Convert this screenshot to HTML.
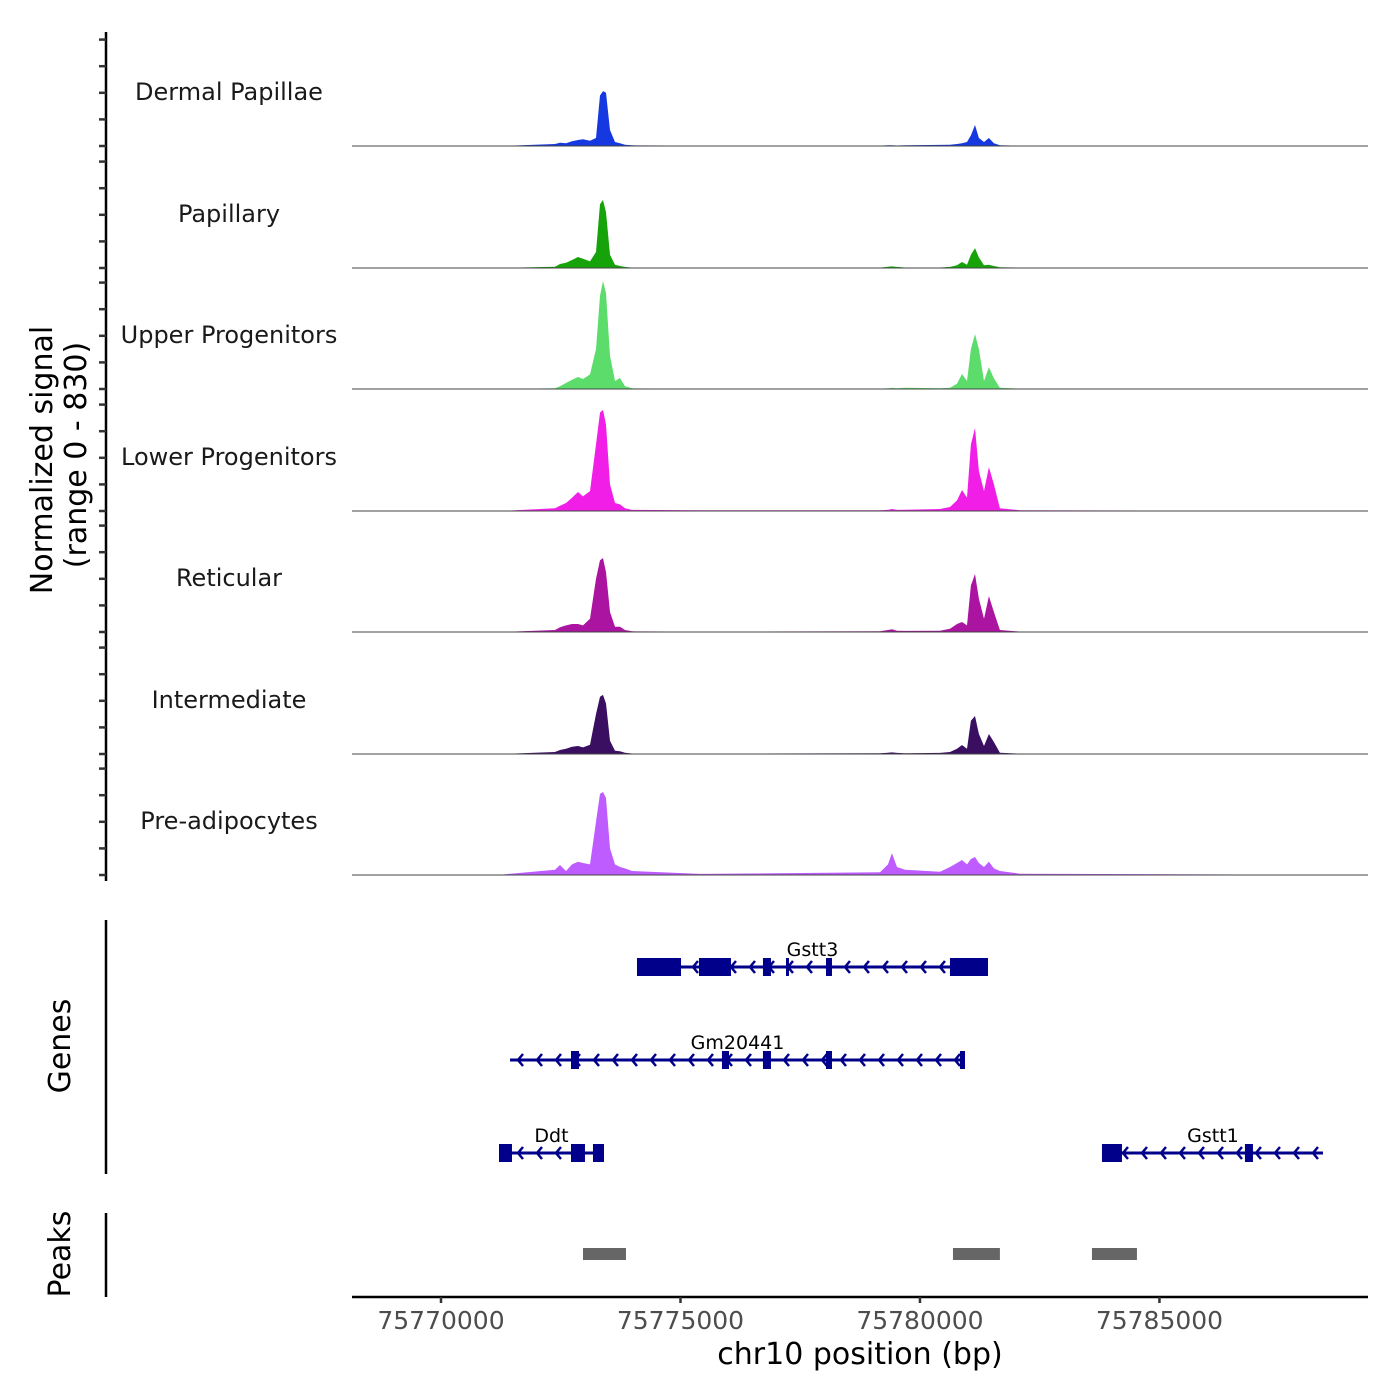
<!DOCTYPE html>
<html><head><meta charset="utf-8"><style>
body{margin:0;background:#fff}
svg{display:block;font-family:"DejaVu Sans","Liberation Sans",sans-serif}
</style></head><body>
<svg id="chart" width="1400" height="1400" viewBox="0 0 1400 1400" xmlns="http://www.w3.org/2000/svg">
<rect width="1400" height="1400" fill="#fff"/>
<g id="tracks"></g>
<g id="genes"></g>
<g id="peaks"></g>
<g id="axes"></g>
<text transform="translate(52,460) rotate(-90)" text-anchor="middle" font-size="30" fill="#000">Normalized signal</text>
<text transform="translate(86,455) rotate(-90)" text-anchor="middle" font-size="30" fill="#000">(range 0 - 830)</text>
<text transform="translate(70,1046) rotate(-90)" text-anchor="middle" font-size="30" fill="#000">Genes</text>
<text transform="translate(70,1254) rotate(-90)" text-anchor="middle" font-size="30" fill="#000">Peaks</text>
<text x="860" y="1364" text-anchor="middle" font-size="30" fill="#000">chr10 position (bp)</text>
</svg>
<script>
const NS='http://www.w3.org/2000/svg';
const xDomain=[75768142,75789354];
const xTicks=[75770000,75775000,75780000,75785000];
const yMax=830;
const yTicks=[0,200,400,600,800];
const trackNames=['Dermal Papillae','Papillary','Upper Progenitors','Lower Progenitors','Reticular','Intermediate','Pre-adipocytes'];
const trackColors=['#1538e0','#16a30a','#5cdc6a','#f01ee6','#aa14a0','#3a0f62','#be5cff'];
const positions=[75768142,75771232,75772380,75772484,75772610,75772735,75772860,75772964,75773111,75773236,75773320,75773382,75773445,75773528,75773633,75773737,75773841,75773988,75775407,75779165,75779332,75779415,75779520,75779687,75780418,75780626,75780773,75780877,75780981,75781064,75781148,75781231,75781336,75781440,75781544,75781669,75782087,75789354];
const dermal=[0,0,15,25,20,35,45,50,40,60,380,413,400,120,30,20,10,5,3,3,6,5,4,5,8,10,15,20,30,80,158,60,30,60,20,5,2,0];
const papillary=[0,0,10,30,40,60,83,70,50,120,480,511,420,100,25,15,8,3,2,3,10,12,8,4,4,8,20,45,25,100,150,80,20,25,15,5,3,0];
const upper=[0,0,5,20,45,70,90,75,110,300,700,812,720,250,60,83,20,5,2,3,5,8,5,10,5,10,40,113,60,300,413,300,60,165,80,10,2,0];
const lower=[0,0,20,40,60,100,143,110,150,500,740,760,650,200,60,50,20,8,5,5,8,15,8,10,15,30,80,158,100,500,624,300,150,330,200,20,5,0];
const reticular=[0,0,15,35,50,60,60,50,100,400,540,556,450,150,40,40,15,5,3,5,15,20,10,8,10,25,60,75,50,350,436,250,100,270,150,15,3,0];
const intermediate=[0,0,15,30,40,55,60,50,70,300,430,444,380,100,25,20,10,4,2,5,10,12,8,6,8,15,40,68,40,250,286,150,60,150,90,10,2,0];
const preadipo=[0,2,40,75,30,80,100,90,80,400,610,624,580,200,80,60,50,30,8,20,80,165,60,40,25,60,90,113,80,120,135,90,60,100,50,30,10,0];
const trackValues=[dermal,papillary,upper,lower,reticular,intermediate,preadipo];
const geneNames=['Gstt3','Gm20441','Ddt','Gstt1'];
const geneStarts=[75774092,75771441,75771211,75783800];
const geneEnds=[75781420,75780940,75773403,75788414];
const geneRows=[0,1,2,2];
const geneExons=[
 [[75774092,75775011],[75775386,75776054],[75776722,75776889],[75777203,75777265],[75778038,75778163],[75780626,75781420]],
 [[75772714,75772881],[75775866,75776013],[75776722,75776889],[75778038,75778163],[75780835,75780940]],
 [[75771211,75771482],[75772714,75773006],[75773173,75773403]],
 [[75783800,75784217],[75786785,75786952]]
];
const peakStarts=[75772965,75780689,75783591];
const peakEnds=[75773862,75781669,75784530];

const X0=352,X1=1368;
const x=v=>X0+(v-xDomain[0])/(xDomain[1]-xDomain[0])*(X1-X0);
const baselines=[146,268,389,511,632,754,875];
const pxPerUnit=106.4/800;
const y=(v,i)=>baselines[i]-v*pxPerUnit;
function el(t,a,p){const e=document.createElementNS(NS,t);for(const k in a)e.setAttribute(k,a[k]);p.appendChild(e);return e;}

const tracks=document.getElementById('tracks');
trackValues.forEach((vals,i)=>{
  let d='M'+x(positions[0])+','+baselines[i];
  vals.forEach((v,j)=>{d+=' L'+x(positions[j]).toFixed(1)+','+y(v,i).toFixed(1);});
  d+=' L'+x(positions[positions.length-1])+','+baselines[i]+'Z';
  const a=el('path',{d:d,fill:trackColors[i]},tracks);
  
  
  const b=el('line',{x1:X0,x2:X1,y1:baselines[i],y2:baselines[i],stroke:'#444','stroke-width':1},tracks);
  
  
  const t=el('text',{x:229,y:baselines[i]-46,'text-anchor':'middle','font-size':24,fill:'#1a1a1a'},tracks);
  t.textContent=trackNames[i];
  
  
});

const axes=document.getElementById('axes');
function line(x1,y1,x2,y2,w,c,name){const l=el('line',{x1,y1,x2,y2,stroke:c,'stroke-width':w},axes);return l;}
line(106,32,106,881,2.5,'#000','coverage-y-axis');
baselines.forEach((b,i)=>{yTicks.forEach(t=>{line(99,y(t,i),106,y(t,i),2.5,'#333','y-tick');});});
line(106,920,106,1174,2.5,'#000','genes-y-axis');
line(106,1213,106,1297,2.5,'#000','peaks-y-axis');
line(352,1297,1368,1297,2.5,'#000','x-axis');
xTicks.forEach(t=>{
  line(x(t),1297,x(t),1303,2.5,'#333','x-tick');
  const tx=el('text',{x:x(t),y:1329,'text-anchor':'middle','font-size':25,fill:'#4d4d4d'},axes);
  tx.textContent=t;
  
  
});

const genes=document.getElementById('genes');
const rowY=[967,1060,1153];
const C='#00008b';
geneNames.forEach((g,i)=>{
  const gy=rowY[geneRows[i]];
  const grp=el('g',{},genes);
  
  
  const xs=x(geneStarts[i]),xe=x(geneEnds[i]);
  el('line',{x1:xs,x2:xe,y1:gy,y2:gy,stroke:C,'stroke-width':3},grp);
  for(let ax=xe-10;ax>xs+3;ax-=19){
    el('path',{d:`M${ax+5},${gy-6} L${ax},${gy} L${ax+5},${gy+6}`,stroke:C,'stroke-width':2.5,fill:'none'},grp);
  }
  geneExons[i].forEach(e=>{
    const r=el('rect',{x:x(e[0]),y:gy-9,width:Math.max(2,x(e[1])-x(e[0])),height:18,fill:C},grp);
    
    
  });
  const t=el('text',{x:(xs+xe)/2,y:gy-11,'text-anchor':'middle','font-size':19,fill:'#000'},grp);
  t.textContent=g;
  if(g==='Gstt1')t.setAttribute('x',xe-110);
  
  
});

const peaks=document.getElementById('peaks');
peakStarts.forEach((s,i)=>{
  const r=el('rect',{x:x(s),y:1248,width:x(peakEnds[i])-x(s),height:12,fill:'#666'},peaks);
  
  
});
</script>
</body></html>
